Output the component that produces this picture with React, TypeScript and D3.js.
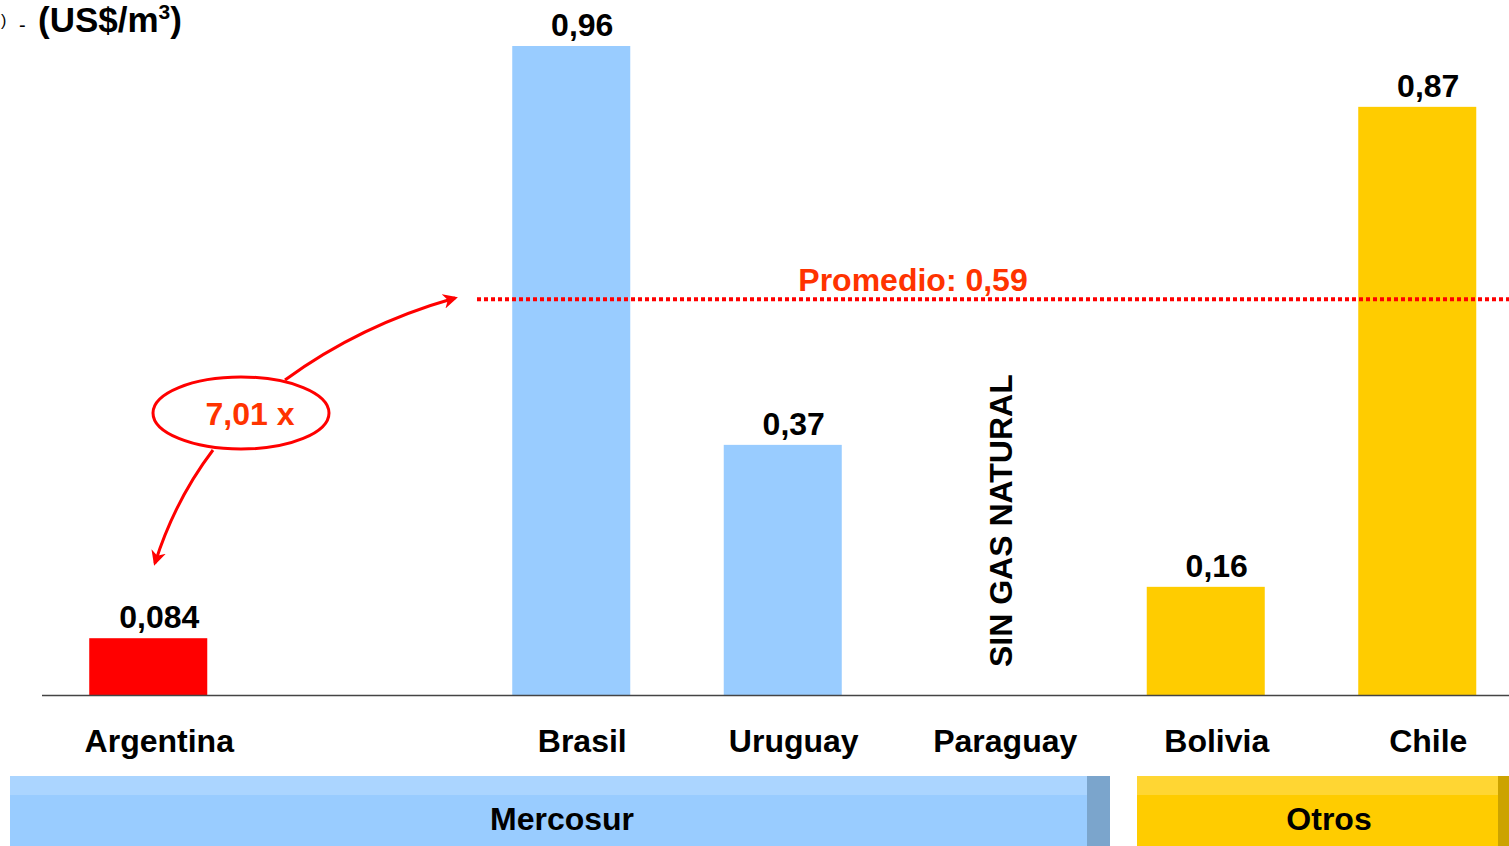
import { useRef, useEffect } from "react";
import * as d3 from "d3";

const categories = ["Argentina", "", "Brasil", "Uruguay", "Paraguay", "Bolivia", "Chile"];
const prices: (number | null)[] = [0.084, null, 0.96, 0.37, null, 0.16, 0.87];
const priceLabels = ["0,084", "", "0,96", "0,37", "", "0,16", "0,87"];
const groupOf = ["arg", "", "mercosur", "mercosur", "mercosur", "otros", "otros"];
const average = 0.59;
const averageLabel = "Promedio: 0,59";
const ratioLabel = "7,01 x";
const noGasLabel = "SIN GAS NATURAL";
const groups = [
  { name: "Mercosur", from: "Argentina", to: "Paraguay" },
  { name: "Otros", from: "Bolivia", to: "Chile" },
];

const W = 1509;
const H = 846;
const FONT = "'Liberation Sans', Arial, sans-serif";
const FS = 32;

export default function App() {
  const svgRef = useRef<SVGSVGElement>(null);

  useEffect(() => {
    const svg = d3.select(svgRef.current).attr("width", W).attr("height", H);
    svg.selectAll("*").remove();

    const base = 695;
    const x = d3
      .scaleBand()
      .domain(categories.map((c, i) => String(i)))
      .range([42.5, 1523])
      .paddingInner(0.442)
      .paddingOuter(0.221);
    const y = d3.scaleLinear().domain([0, 0.96]).range([base, 46]);
    const bw = x.bandwidth();
    const mid = (i: number) => (x(String(i)) as number) + bw / 2;
    const labelShift = 11;

    const barColor = (i: number) =>
      groupOf[i] === "arg" ? "#FF0000" : groupOf[i] === "mercosur" ? "#99CCFF" : "#FFCC00";

    // arrow marker
    const defs = svg.append("defs");
    defs
      .append("marker")
      .attr("id", "arrow")
      .attr("viewBox", "0 0 10 10")
      .attr("refX", 8)
      .attr("refY", 5)
      .attr("markerWidth", 5)
      .attr("markerHeight", 5)
      .attr("orient", "auto")
      .append("path")
      .attr("d", "M0,0 L10,5 L0,10 L3,5 Z")
      .attr("fill", "#FF0000");

    // title (cut off at left)
    const title = svg.append("text").attr("y", 32).attr("font-family", FONT);
    title.append("tspan").attr("x", 1).attr("font-size", 16).attr("dy", -6).text(")");
    title.append("tspan").attr("x", 19).attr("font-size", 20).attr("dy", 6).text("-");
    title.append("tspan").attr("x", 38).attr("font-size", 35).attr("font-weight", "bold").text("(US$/m");
    title.append("tspan").attr("font-size", 21).attr("font-weight", "bold").attr("dy", -13).text("3");
    title.append("tspan").attr("font-size", 35).attr("font-weight", "bold").attr("dy", 13).text(")");

    // bars
    const idx = categories.map((c, i) => i).filter((i) => prices[i] != null);
    svg
      .selectAll("rect.bar")
      .data(idx)
      .join("rect")
      .attr("class", "bar")
      .attr("x", (i) => x(String(i)) as number)
      .attr("y", (i) => y(prices[i] as number))
      .attr("width", bw)
      .attr("height", (i) => base - y(prices[i] as number))
      .attr("fill", (i) => barColor(i));

    // value labels
    svg
      .selectAll("text.val")
      .data(idx)
      .join("text")
      .attr("class", "val")
      .attr("x", (i) => mid(i) + labelShift)
      .attr("y", (i) => y(prices[i] as number) - 10)
      .attr("text-anchor", "middle")
      .attr("font-family", FONT)
      .attr("font-weight", "bold")
      .attr("font-size", FS)
      .text((i) => priceLabels[i]);

    // baseline
    svg
      .append("line")
      .attr("x1", 42)
      .attr("x2", W)
      .attr("y1", base + 0.5)
      .attr("y2", base + 0.5)
      .attr("stroke", "#444")
      .attr("stroke-width", 1.5);

    // category labels
    svg
      .selectAll("text.cat")
      .data(categories.map((c, i) => i).filter((i) => categories[i] !== ""))
      .join("text")
      .attr("class", "cat")
      .attr("x", (i) => mid(i) + labelShift)
      .attr("y", 752)
      .attr("text-anchor", "middle")
      .attr("font-family", FONT)
      .attr("font-weight", "bold")
      .attr("font-size", FS)
      .text((i) => categories[i]);

    // sin gas natural
    const pIdx = categories.indexOf("Paraguay");
    svg
      .append("text")
      .attr("transform", `translate(${mid(pIdx) + 18},667) rotate(-90)`)
      .attr("font-family", FONT)
      .attr("font-weight", "bold")
      .attr("font-size", FS)
      .text(noGasLabel);

    // average line
    const ya = y(average) + 3;
    svg
      .append("line")
      .attr("x1", 477)
      .attr("x2", W)
      .attr("y1", ya)
      .attr("y2", ya)
      .attr("stroke", "#FF0000")
      .attr("stroke-width", 4)
      .attr("stroke-dasharray", "4,3");
    svg
      .append("text")
      .attr("x", 913)
      .attr("y", ya - 8)
      .attr("text-anchor", "middle")
      .attr("font-family", FONT)
      .attr("font-weight", "bold")
      .attr("font-size", FS)
      .attr("fill", "#FF3300")
      .text(averageLabel);

    // ratio callout
    svg
      .append("path")
      .attr("d", "M285,380 Q360,325 455,298")
      .attr("fill", "none")
      .attr("stroke", "#FF0000")
      .attr("stroke-width", 3)
      .attr("marker-end", "url(#arrow)");
    svg
      .append("path")
      .attr("d", "M213,450 Q175,500 155,563")
      .attr("fill", "none")
      .attr("stroke", "#FF0000")
      .attr("stroke-width", 3)
      .attr("marker-end", "url(#arrow)");
    svg
      .append("ellipse")
      .attr("cx", 241)
      .attr("cy", 413)
      .attr("rx", 88)
      .attr("ry", 36)
      .attr("fill", "#fff")
      .attr("stroke", "#FF0000")
      .attr("stroke-width", 3);
    svg
      .append("text")
      .attr("x", 250)
      .attr("y", 425)
      .attr("text-anchor", "middle")
      .attr("font-family", FONT)
      .attr("font-weight", "bold")
      .attr("font-size", FS)
      .attr("fill", "#FF3300")
      .text(ratioLabel);

    // group bands
    const bandStyle: Record<string, { main: string; top: string; edge: string; x0: number; x1: number; ew: number; tx: number }> = {
      Mercosur: { main: "#99CCFF", top: "#ABD5FF", edge: "#7BA5CC", x0: 10, x1: 1110, ew: 23, tx: 562 },
      Otros: { main: "#FFCC00", top: "#FFD633", edge: "#CCA300", x0: 1137, x1: 1509, ew: 11, tx: 1329 },
    };
    groups.forEach((g) => {
      const s = bandStyle[g.name];
      const gg = svg.append("g");
      gg.append("rect").attr("x", s.x0).attr("y", 776).attr("width", s.x1 - s.x0).attr("height", 70).attr("fill", s.main);
      gg.append("rect").attr("x", s.x0).attr("y", 776).attr("width", s.x1 - s.x0).attr("height", 19).attr("fill", s.top);
      gg.append("rect").attr("x", s.x1 - s.ew).attr("y", 776).attr("width", s.ew).attr("height", 70).attr("fill", s.edge);
      gg.append("text")
        .attr("x", s.tx)
        .attr("y", 830)
        .attr("text-anchor", "middle")
        .attr("font-family", FONT)
        .attr("font-weight", "bold")
        .attr("font-size", FS)
        .text(g.name);
    });
  }, []);

  return (
    <div style={{ position: "absolute", left: 0, top: 0 }}>
      <svg ref={svgRef} style={{ display: "block" }}></svg>
    </div>
  );
}
